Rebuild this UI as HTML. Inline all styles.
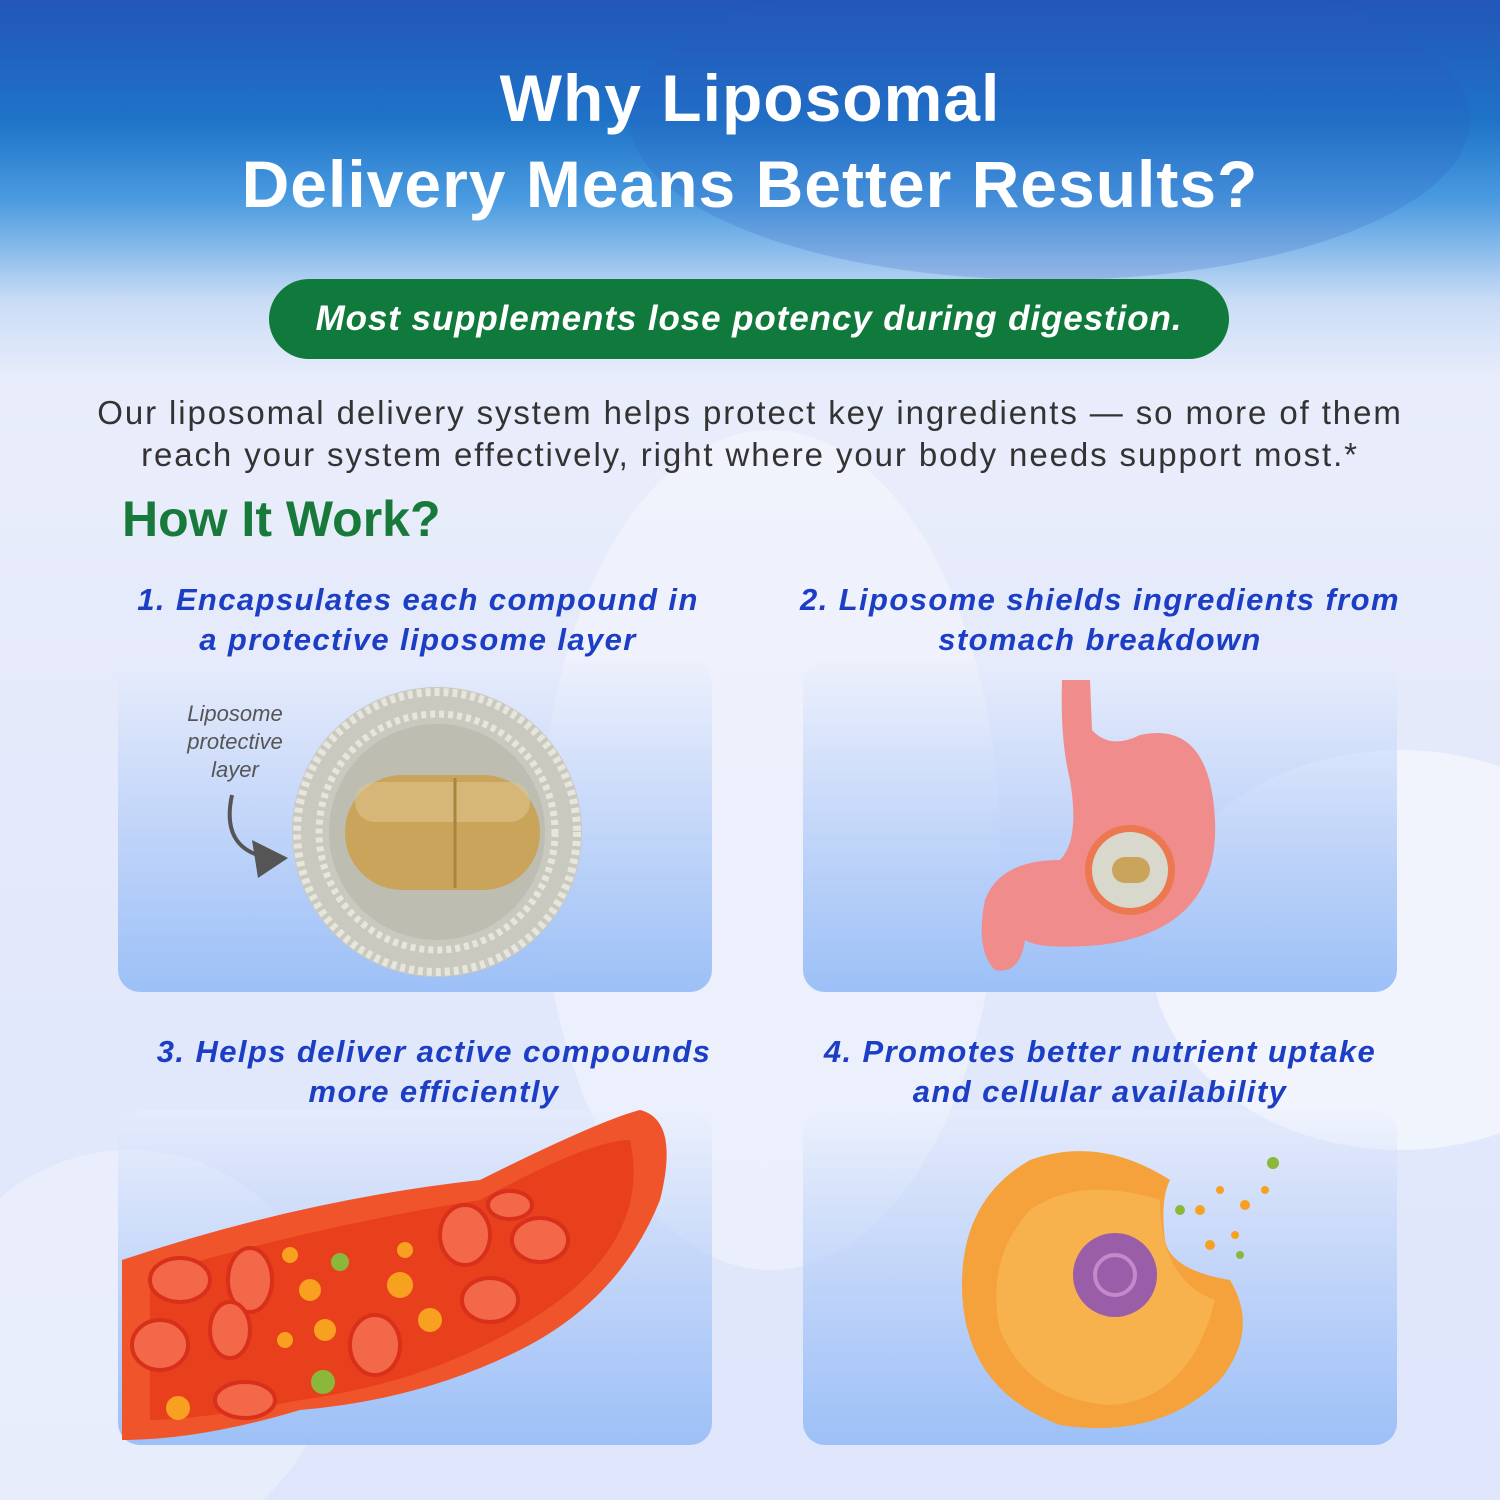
<!DOCTYPE html>
<html><head><meta charset="utf-8">
<style>
*{margin:0;padding:0;box-sizing:border-box}
body{width:1500px;height:1500px;overflow:hidden;position:relative;font-family:"Liberation Sans",sans-serif;
background:linear-gradient(180deg,#2356b8 0px,#1e73c8 120px,#4a9be0 200px,#c9dcf6 300px,#e9edfb 380px,#e4e9fb 800px,#dfe6fb 1500px);}
.abs{position:absolute}
.title{left:0;width:1500px;text-align:center;color:#fff;font-weight:bold;font-size:66px;letter-spacing:1px}
.pill{left:269px;top:279px;width:960px;height:80px;border-radius:40px;background:#0f7a3b;color:#fff;font-weight:bold;font-style:italic;font-size:35px;letter-spacing:0.9px;text-align:center;line-height:80px}
.para{left:0;width:1500px;text-align:center;color:#333;font-size:33px;letter-spacing:1.9px;line-height:42px}
.how{left:122px;top:490px;color:#177a3a;font-weight:bold;font-size:50px}
.card{border-radius:22px;background:linear-gradient(180deg,rgba(235,240,253,0.3) 0%,rgba(180,205,248,0.8) 55%,#9cc0f7 100%)}
.h{color:#1b3ec4;font-weight:bold;font-style:italic;font-size:31px;letter-spacing:1.4px;line-height:40px;text-align:center}
</style></head><body>
<svg class="abs" style="left:0;top:0" width="1500" height="1500">
<ellipse cx="1050" cy="120" rx="420" ry="160" fill="#2c5cc0" opacity="0.2"/>
<ellipse cx="770" cy="850" rx="230" ry="420" fill="#ffffff" opacity="0.35"/>
<ellipse cx="1400" cy="950" rx="250" ry="200" fill="#ffffff" opacity="0.5"/>
<ellipse cx="130" cy="1350" rx="200" ry="200" fill="#ffffff" opacity="0.3"/>
</svg>
<div class="abs title" style="top:60px">Why Liposomal</div>
<div class="abs title" style="top:146px">Delivery Means Better Results?</div>
<div class="abs pill">Most supplements lose potency during digestion.</div>
<div class="abs para" style="top:392px">Our liposomal delivery system helps protect key ingredients — so more of them<br>reach your system effectively, right where your body needs support most.*</div>
<div class="abs how">How It Work?</div>

<div class="abs card" style="left:118px;top:660px;width:594px;height:332px"></div>
<div class="abs card" style="left:803px;top:660px;width:594px;height:332px"></div>
<div class="abs card" style="left:118px;top:1110px;width:594px;height:335px"></div>
<div class="abs card" style="left:803px;top:1110px;width:594px;height:335px"></div>

<div class="abs h" style="left:68px;top:580px;width:700px">1. Encapsulates each compound in<br>a protective liposome layer</div>
<div class="abs h" style="left:750px;top:580px;width:700px">2. Liposome shields ingredients from<br>stomach breakdown</div>
<div class="abs h" style="left:84px;top:1032px;width:700px">3. Helps deliver active compounds<br>more efficiently</div>
<div class="abs h" style="left:750px;top:1032px;width:700px">4. Promotes better nutrient uptake<br>and cellular availability</div>

<div class="abs" style="left:160px;top:700px;width:150px;text-align:center;color:#555;font-style:italic;font-size:22px;line-height:28px">Liposome<br>protective<br>layer</div>

<svg class="abs" style="left:0;top:0" width="1500" height="1500">
<path d="M232 795 Q220 850 270 858" stroke="#555" stroke-width="4" fill="none"/>
<polygon points="288,858 252,840 258,878" fill="#555"/>
<circle cx="437" cy="832" r="145" fill="#c9c9c0"/>
<circle cx="437" cy="832" r="140" fill="none" stroke="#e6e6dc" stroke-width="8" stroke-dasharray="5 4"/>
<circle cx="437" cy="832" r="118" fill="none" stroke="#e6e6dc" stroke-width="7" stroke-dasharray="5 4"/>
<circle cx="437" cy="832" r="108" fill="#bdbdb2"/>
<rect x="345" y="775" width="195" height="115" rx="57" fill="#c9a45a"/>
<rect x="355" y="782" width="175" height="40" rx="20" fill="#dfc48a" opacity="0.6"/>
<line x1="455" y1="778" x2="455" y2="888" stroke="#a88640" stroke-width="3"/>
<path d="M1062 680 L1090 680 L1092 730 Q1110 750 1140 735 Q1210 720 1215 820 Q1220 930 1100 945 Q1040 950 1025 940 Q1020 975 995 970 Q975 950 985 900 Q1000 860 1060 860 Q1080 840 1070 780 Q1060 740 1062 680 Z" fill="#f08c8c"/>
<circle cx="1130" cy="870" r="45" fill="#e86a2a" opacity="0.6"/>
<circle cx="1130" cy="870" r="38" fill="#d8d8cc"/>
<rect x="1112" y="857" width="38" height="26" rx="13" fill="#c9a45a"/>
<path d="M122 1260 Q300 1200 480 1180 Q600 1120 640 1110 Q680 1120 660 1200 Q620 1300 520 1350 Q420 1400 300 1410 Q200 1440 122 1440 Z" fill="#f0542a"/>
<path d="M150 1275 Q320 1225 480 1200 Q590 1140 630 1140 Q650 1230 560 1300 Q450 1380 300 1400 Q200 1420 150 1420 Z" fill="#e8401c"/>
<g fill="#f4684a" stroke="#d8301a" stroke-width="4">
<ellipse cx="180" cy="1280" rx="30" ry="22"/><ellipse cx="250" cy="1280" rx="22" ry="32"/>
<ellipse cx="160" cy="1345" rx="28" ry="25"/><ellipse cx="230" cy="1330" rx="20" ry="28"/>
<ellipse cx="245" cy="1400" rx="30" ry="18"/><ellipse cx="375" cy="1345" rx="25" ry="30"/>
<ellipse cx="465" cy="1235" rx="25" ry="30"/><ellipse cx="540" cy="1240" rx="28" ry="22"/>
<ellipse cx="490" cy="1300" rx="28" ry="22"/><ellipse cx="510" cy="1205" rx="22" ry="14"/>
</g>
<g fill="#f8a020"><circle cx="310" cy="1290" r="11"/><circle cx="400" cy="1285" r="13"/><circle cx="325" cy="1330" r="11"/><circle cx="430" cy="1320" r="12"/><circle cx="290" cy="1255" r="8"/><circle cx="405" cy="1250" r="8"/><circle cx="285" cy="1340" r="8"/><circle cx="178" cy="1408" r="12"/></g>
<g fill="#8ab83a"><circle cx="340" cy="1262" r="9"/><circle cx="323" cy="1382" r="12"/></g>
<path d="M1170 1180 Q1100 1135 1030 1160 Q960 1200 962 1290 Q965 1390 1060 1425 Q1160 1440 1220 1380 Q1260 1330 1230 1280 Q1170 1270 1165 1240 Q1160 1200 1170 1180 Z" fill="#f5a23c"/>
<path d="M1160 1200 Q1080 1175 1030 1210 Q985 1260 1000 1330 Q1030 1400 1110 1405 Q1190 1400 1215 1300 Q1160 1280 1160 1200 Z" fill="#f7b24e"/>
<circle cx="1115" cy="1275" r="42" fill="#9a5ea8"/>
<circle cx="1115" cy="1275" r="20" fill="none" stroke="#c08acc" stroke-width="4"/>
<g fill="#f8a020"><circle cx="1200" cy="1210" r="5"/><circle cx="1220" cy="1190" r="4"/><circle cx="1245" cy="1205" r="5"/><circle cx="1235" cy="1235" r="4"/><circle cx="1210" cy="1245" r="5"/><circle cx="1265" cy="1190" r="4"/></g>
<g fill="#8ab83a"><circle cx="1273" cy="1163" r="6"/><circle cx="1180" cy="1210" r="5"/><circle cx="1240" cy="1255" r="4"/></g>
</svg>
</body></html>
